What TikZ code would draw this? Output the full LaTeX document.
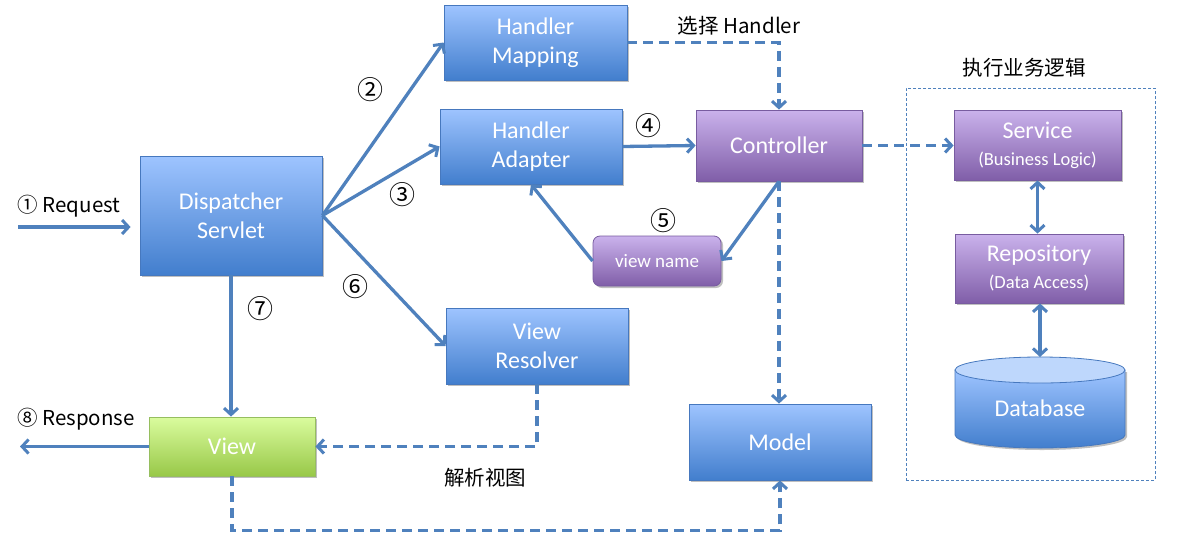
\documentclass[tikz,border=0pt]{standalone}
\usepackage{fontspec}
\setmainfont{Carlito}
\newfontfamily\cjk{Noto Sans CJK SC}
\usetikzlibrary{arrows.meta,shadows,calc}
\definecolor{lineblue}{RGB}{79,129,189}
\definecolor{blueTop}{RGB}{158,196,255}
\definecolor{blueBot}{RGB}{66,126,205}
\definecolor{blueEdge}{RGB}{70,120,190}
\definecolor{purTop}{RGB}{202,178,236}
\definecolor{purBot}{RGB}{128,94,168}
\definecolor{purEdge}{RGB}{120,92,160}
\definecolor{grnTop}{RGB}{218,252,158}
\definecolor{grnBot}{RGB}{152,200,72}
\definecolor{grnEdge}{RGB}{150,190,95}
\definecolor{dbTopFill}{RGB}{190,215,252}
\begin{document}
\begin{tikzpicture}[x=1pt,y=-1pt,
  boxbase/.style={draw, line width=0.8pt, inner sep=0pt, align=center, text=white,
    font=\fontsize{24}{29}\selectfont,
    drop shadow={shadow xshift=2pt, shadow yshift=-2pt, opacity=0.25, fill=black}},
  bluebox/.style={boxbase, draw=blueEdge, top color=blueTop, bottom color=blueBot},
  purbox/.style={boxbase, draw=purEdge, top color=purTop, bottom color=purBot},
  grnbox/.style={boxbase, draw=grnEdge, top color=grnTop, bottom color=grnBot},
  tipb/.tip={Straight Barb[length=6.5pt,width=14pt,line width=3pt]},
  arr/.style={draw=lineblue, line width=3.3pt, -tipb},
  darr/.style={arr, dash pattern=on 10pt off 6pt},
  biarr/.style={draw=lineblue, line width=3.3pt, tipb-tipb},
  lbl/.style={font=\cjk\fontsize{20.5}{23}\selectfont, text=black, inner sep=0pt},
  num/.style={font=\cjk\fontsize{26}{28}\selectfont, text=black, inner sep=0pt}
]
\useasboundingbox[fill=white] (0,0) rectangle (1196,555);

% main nodes
\node[bluebox, minimum width=182pt, minimum height=119pt] (ds) at (231,215.5) {Dispatcher\\Servlet};
\node[bluebox, minimum width=183pt, minimum height=75pt] (hm) at (535.5,42.5) {Handler\\Mapping};
\node[bluebox, minimum width=182pt, minimum height=75pt] (ha) at (531,146.5) {Handler\\Adapter};
\node[purbox, minimum width=166pt, minimum height=71pt] (ctl) at (779,145.5) {Controller};
\node[purbox, minimum width=128pt, minimum height=50pt, rounded corners=7pt,
      font=\fontsize{19}{22}\selectfont] (vn) at (657,261) {view name};
\node[bluebox, minimum width=182pt, minimum height=76pt] (vr) at (537,346) {View\\Resolver};
\node[grnbox, minimum width=166pt, minimum height=59pt] (view) at (232,446.5) {View};
\node[bluebox, minimum width=182pt, minimum height=76pt] (model) at (780,442) {Model};

% business logic group
\node[draw=lineblue, line width=0.8pt, dash pattern=on 3pt off 2pt, minimum width=249pt, minimum height=392pt, inner sep=0pt] (grp) at (1030.5,284) {};
\node[purbox, minimum width=167pt, minimum height=70pt] (svc) at (1037.5,145)
  {{\fontsize{24}{25}\selectfont Service}\\[-2pt]{\fontsize{18.5}{21}\selectfont (Business Logic)}};
\node[purbox, minimum width=168pt, minimum height=69pt] (repo) at (1039,268.5)
  {{\fontsize{24}{25}\selectfont Repository}\\[-2pt]{\fontsize{18.5}{21}\selectfont (Data Access)}};

% database cylinder
\shade[top color=blueTop, bottom color=blueBot, draw=blueEdge, line width=0.8pt,
  drop shadow={shadow xshift=2pt, shadow yshift=-2pt, opacity=0.25, fill=black}]
  (955,370) -- (955,435) arc[start angle=180, end angle=0, x radius=85, y radius=13] -- (1125,370) -- cycle;
\draw[fill=dbTopFill, draw=blueEdge, line width=0.8pt] (1040,370) ellipse [x radius=85, y radius=13];
\node[text=white, font=\fontsize{24}{28}\selectfont, inner sep=0pt] (db) at (1040,408) {Database};
\coordinate (dbtop) at (1040,357);

% labels
\node[lbl] (req) at (69,206) {① Request};
\node[lbl] (resp) at (76,419) {⑧ Response};
\node[lbl] (sel) at (739,26) {选择 Handler};
\node[lbl] (exec) at (1024,68) {执行业务逻辑};
\node[lbl] (parse) at (485,478) {解析视图};
\node[num] (n2) at (370,90) {②};
\node[num] (n3) at (402,195) {③};
\node[num] (n4) at (648,126) {④};
\node[num] (n5) at (663,221) {⑤};
\node[num] (n6) at (355,287) {⑥};
\node[num] (n7) at (260,309) {⑦};

% connectors
\coordinate (reqS) at (18,227);
\coordinate (respE) at (20,446.5);
\draw[arr, shorten >=9pt] (reqS) -- (reqS -| ds.west);
\draw[arr] (ds.east) -- (hm.west);
\draw[arr] (ds.east) -- (ha.west);
\draw[arr] (ds.east) -- (vr.west);
\draw[arr] (ds.south) -- (ds.south |- view.north);
\draw[arr] (view.west) -- (respE);
\draw[darr] (hm.east) -| (ctl.north);
\draw[arr] (ha.east) -- (ctl.west);
\draw[arr] (ctl.south) -- (vn.east);
\draw[arr] (vn.west) -- (ha.south);
\draw[darr] (ctl.south) -- (ctl.south |- model.north);
\draw[darr] (ctl.east) -- (ctl.east -| svc.west);
\draw[biarr] (svc.south) -- (svc.south |- repo.north);
\draw[biarr] (repo.south -| dbtop) -- (dbtop);
\draw[darr] (vr.south) |- (view.east);
\draw[darr] (view.south) -- ++(0,54) -| (model.south);
\end{tikzpicture}
\end{document}
